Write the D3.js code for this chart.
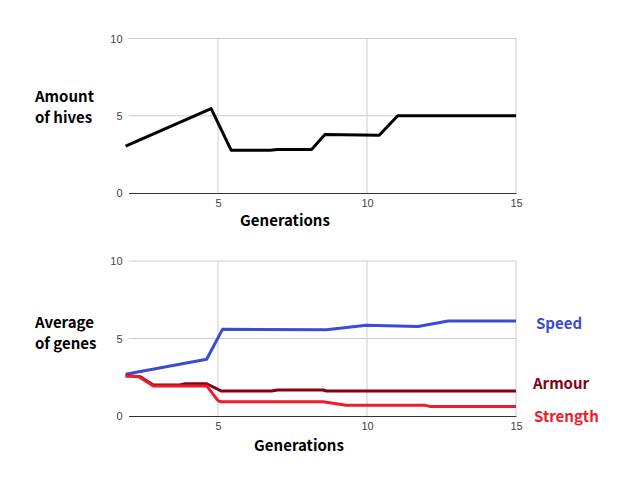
<!DOCTYPE html>
<html>
<head>
<meta charset="utf-8">
<script src="https://cdn.jsdelivr.net/npm/d3@7"></script>
<style>
  body { margin: 0; background: #fff; }
  .tick text { font-family: Arial, "Liberation Sans", sans-serif; font-size: 11px; fill: #444; }
  .title { font-family: "Noto Sans CJK KR", "Noto Sans", sans-serif; font-weight: bold; font-size: 15px; }
</style>
</head>
<body>
<div id="chart"></div>
<script>
// top chart: amount of hives
var hivesX = [1.9, 4.77, 5.44, 6.75, 7.0, 8.14, 8.59, 10.41, 11.03, 15];
var hives  = [3.03, 5.46, 2.77, 2.77, 2.82, 2.82, 3.78, 3.74, 5.0, 5.0];

// bottom chart: average of genes
var speedX = [1.9, 4.62, 5.15, 8.64, 9.98, 11.71, 12.72, 15];
var speed  = [2.69, 3.66, 5.59, 5.57, 5.85, 5.78, 6.13, 6.13];

var armourX = [1.9, 2.38, 2.83, 3.72, 3.9, 4.62, 5.12, 6.8, 7.0, 8.53, 8.64, 15];
var armour  = [2.6, 2.54, 2.0, 2.0, 2.08, 2.08, 1.61, 1.61, 1.68, 1.68, 1.61, 1.61];

var strengthX = [1.9, 2.33, 2.83, 4.62, 5.0, 5.1, 8.53, 9.3, 11.93, 12.1, 15];
var strength  = [2.58, 2.55, 1.94, 1.94, 0.99, 0.92, 0.92, 0.7, 0.7, 0.62, 0.62];

var xTicks = [5, 10, 15];
var yTicks = [0, 5, 10];

var svg = d3.select("#chart").append("svg")
    .attr("width", 621)
    .attr("height", 481);

var xScale = d3.scaleLinear().domain([2, 15]).range([128.6, 516]);

function panel(top, bottom, series, labelLines, labelY, genX, genY) {
    var yScale = d3.scaleLinear().domain([0, 10]).range([bottom, top]);
    var g = svg.append("g");

    // horizontal grid
    g.append("g")
        .selectAll("line")
        .data(yTicks.filter(function (d) { return d > 0; }))
        .enter().append("line")
        .attr("x1", xScale(2)).attr("x2", xScale(15))
        .attr("y1", function (d) { return yScale(d); })
        .attr("y2", function (d) { return yScale(d); })
        .style("stroke", "#cccccc").style("stroke-width", 1);

    // vertical grid
    g.append("g")
        .selectAll("line")
        .data(xTicks)
        .enter().append("line")
        .attr("x1", function (d) { return xScale(d); })
        .attr("x2", function (d) { return xScale(d); })
        .attr("y1", yScale(10)).attr("y2", yScale(0))
        .style("stroke", "#cccccc").style("stroke-width", 1);

    var xAxis = g.append("g")
        .attr("transform", "translate(0," + yScale(0) + ")")
        .call(d3.axisBottom(xScale).tickValues(xTicks).tickSize(0).tickPadding(6));
    xAxis.select(".domain").style("stroke", "#333");

    var yAxis = g.append("g")
        .attr("transform", "translate(" + (xScale(2) - 4) + ",0)")
        .call(d3.axisLeft(yScale).tickValues(yTicks).tickSize(0).tickPadding(2));
    yAxis.select(".domain").remove();

    var line = d3.line()
        .x(function (d) { return xScale(d[0]); })
        .y(function (d) { return yScale(d[1]); });

    series.forEach(function (s) {
        var pts = s.x.map(function (v, i) { return [v, s.y[i]]; });
        g.append("path")
            .datum(pts)
            .attr("d", line)
            .style("fill", "none")
            .style("stroke", s.color)
            .style("stroke-width", 3)
            .style("stroke-linejoin", "round");
        if (s.label) {
            g.append("text")
                .attr("class", "title")
                .attr("x", s.lx)
                .attr("y", yScale(s.ly))
                .attr("dy", "0.35em")
                .style("fill", s.color)
                .text(s.label);
        }
    });

    var lbl = g.append("text").attr("class", "title").style("fill", "#000");
    labelLines.forEach(function (t, i) {
        lbl.append("tspan").attr("x", 35).attr("y", labelY + i * 21).text(t);
    });

    g.append("text").attr("class", "title")
        .attr("x", genX).attr("y", genY)
        .attr("text-anchor", "middle")
        .style("fill", "#000")
        .text("Generations");
}

panel(38.5, 193, [
    {x: hivesX, y: hives, color: "#000000"}
], ["Amount", "of hives"], 102, 285, 226);

panel(261, 416, [
    {x: speedX, y: speed, color: "#3c4bd1", label: "Speed", lx: 536, ly: 5.95},
    {x: armourX, y: armour, color: "#850014", label: "Armour", lx: 533, ly: 2.05},
    {x: strengthX, y: strength, color: "#ec1c2a", label: "Strength", lx: 534, ly: -0.08}
], ["Average", "of genes"], 328, 299, 451);
</script>
</body>
</html>
